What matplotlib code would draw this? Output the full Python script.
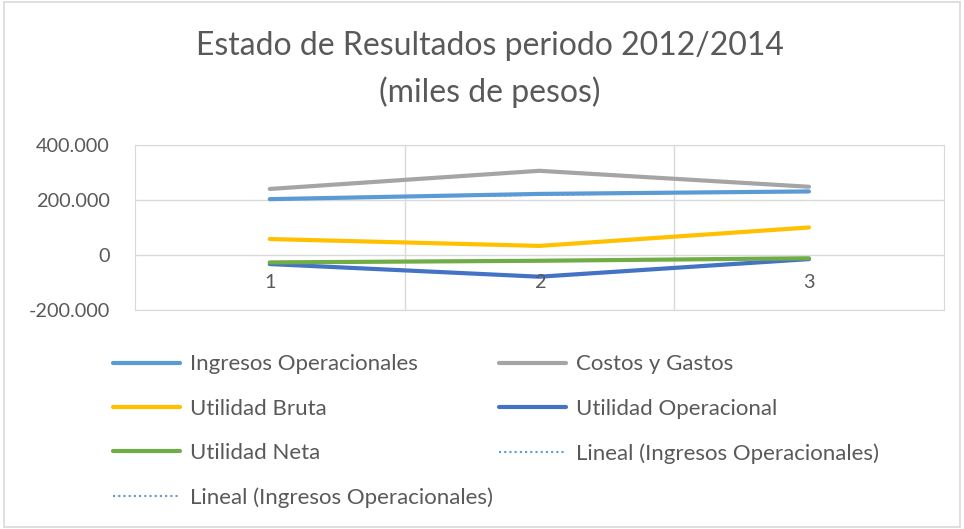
import numpy as np
import matplotlib.pyplot as plt
from matplotlib.ticker import FuncFormatter, FixedLocator
from matplotlib.patches import Rectangle

plt.rcParams['font.family'] = ['Lato', 'DejaVu Sans']

# ── Data ─────────────────────────────────────────────────────────────────────
PERIODS     = [1, 2, 3]
INGRESOS    = [203000, 222000, 231000]
COSTOS      = [240000, 306000, 248000]
UT_BRUTA    = [58000, 33000, 100000]
UT_OPERAC   = [-33000, -79000, -15000]
UT_NETA     = [-27000, -21000, -12000]

TITLE = "Estado de Resultados periodo 2012/2014\n(miles de pesos)"
TEXT_COLOR = "#595959"
GRID_COLOR = "#D9D9D9"


def thousands(v, pos):
    return f"{int(v):,}".replace(",", ".")


fig = plt.figure(figsize=(9.64, 5.29), dpi=100)
fig.patches.append(Rectangle((0.004, 0.004), 0.992, 0.992, transform=fig.transFigure,
                             fill=False, edgecolor=GRID_COLOR, linewidth=1.2))
ax = fig.add_axes([0.140, 0.414, 0.839, 0.312])

x = np.array(PERIODS, dtype=float)
# linear trend lines (mostly hidden beneath the data line)
coef = np.polyfit(x, INGRESOS, 1)
trend = np.polyval(coef, x)
t1, = ax.plot(x, trend, color="#5B9BD5", lw=1.5, ls=(0, (1, 1.5)), zorder=1)
t2, = ax.plot(x, trend, color="#5B9BD5", lw=1.5, ls=(0, (1, 1.5)), zorder=1)

l_ing, = ax.plot(x, INGRESOS,  color="#5B9BD5", lw=3, solid_capstyle="round", zorder=3)
l_cos, = ax.plot(x, COSTOS,    color="#A5A5A5", lw=3, solid_capstyle="round", zorder=3)
l_bru, = ax.plot(x, UT_BRUTA,  color="#FFC000", lw=3, solid_capstyle="round", zorder=3)
l_ope, = ax.plot(x, UT_OPERAC, color="#4472C4", lw=3, solid_capstyle="round", zorder=3)
l_net, = ax.plot(x, UT_NETA,   color="#70AD47", lw=3, solid_capstyle="round", zorder=4)

ax.set_xlim(0.5, 3.5)
ax.set_ylim(-200000, 400000)
ax.yaxis.set_major_locator(FixedLocator([-200000, 0, 200000, 400000]))
ax.yaxis.set_major_formatter(FuncFormatter(thousands))
ax.xaxis.set_major_locator(FixedLocator([1.5, 2.5]))
ax.grid(True, color=GRID_COLOR, lw=1, zorder=0)
ax.set_axisbelow(True)
for sp in ax.spines.values():
    sp.set_color(GRID_COLOR)
ax.tick_params(axis="x", length=0, labelbottom=False)
ax.tick_params(axis="y", length=0, labelsize=14.3, labelcolor=TEXT_COLOR, pad=18)

for p in PERIODS:
    ax.annotate(str(p), (p, 0), xytext=(0, -14), textcoords="offset points",
                ha="center", va="top", fontsize=14.3, color=TEXT_COLOR)

fig.text(0.508, 0.868, TITLE, ha="center", va="center", fontsize=23,
         color=TEXT_COLOR, linespacing=1.6)

handles = [l_ing, l_bru, l_net, t2, l_cos, l_ope, t1]
labels = ["Ingresos Operacionales", "Utilidad Bruta", "Utilidad Neta",
          "Lineal (Ingresos Operacionales)", "Costos y Gastos",
          "Utilidad Operacional", "Lineal (Ingresos Operacionales)"]
leg = fig.legend(handles, labels, ncol=2, loc="upper left",
                 bbox_to_anchor=(0.108, 0.347), frameon=False, fontsize=16,
                 handlelength=3.0, handletextpad=0.45, columnspacing=0.3,
                 labelspacing=1.1, borderaxespad=0)
for t in leg.get_texts():
    t.set_color(TEXT_COLOR)

plt.savefig("out.png", dpi=100)
